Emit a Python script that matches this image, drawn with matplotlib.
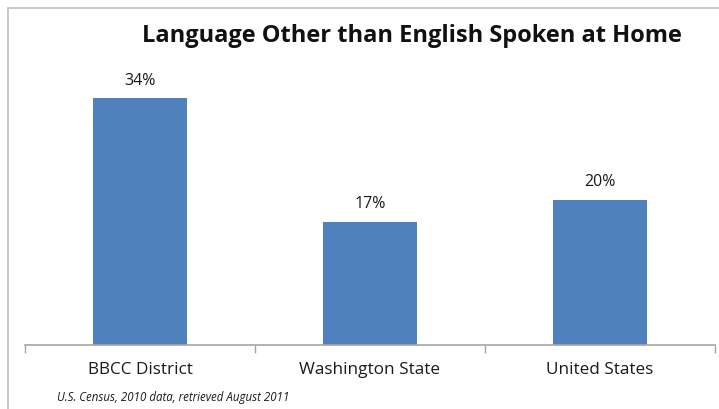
import matplotlib.pyplot as plt
from matplotlib.patches import Rectangle

# data
categories = ["BBCC District", "Washington State", "United States"]
shares = [34, 17, 20]
value_labels = ["34%", "17%", "20%"]

title = "Language Other than English Spoken at Home"
source_note = "U.S. Census, 2010 data, retrieved August 2011"

plt.rcParams["font.family"] = ["Open Sans", "DejaVu Sans"]

fig = plt.figure(figsize=(7.19, 4.09), dpi=100)
ax = fig.add_axes([0.0348, 0.1565, 0.9596, 0.7102])

x = range(len(categories))
bars = ax.bar(x, shares, width=0.405, color="#4F81BD", zorder=2)

for rect, lab in zip(bars, value_labels):
    ax.text(rect.get_x() + rect.get_width() / 2, rect.get_height() + 1.3, lab,
            ha="center", va="bottom", fontsize=11.5, color="#1A1A1A")

ax.set_xlim(-0.5, len(categories) - 0.5)
ax.set_ylim(0, 40)
ax.set_xticks(list(x))
ax.set_xticklabels(categories, fontsize=12.3, color="#1A1A1A")
ax.set_xticks([-0.5, 0.5, 1.5, 2.5], minor=True)
ax.tick_params(axis="x", which="major", length=0, pad=12)
ax.tick_params(axis="x", which="minor", length=6, color="#A6A6A6", width=1)
ax.set_yticks([])

for side in ["left", "right", "top"]:
    ax.spines[side].set_visible(False)
ax.spines["bottom"].set_color("#A6A6A6")
ax.spines["bottom"].set_linewidth(1.2)

fig.text(0.573, 0.912, title, ha="center", va="center",
         fontsize=17, fontweight="bold", color="#111111")
fig.text(0.079, 0.027, source_note, ha="left", va="center",
         fontsize=8.3, style="italic", color="#1A1A1A")

# chart area border (top and left edges)
fig.add_artist(Rectangle((8 / 719, -0.1), 1.2, 1.1 - 8 / 409,
                         transform=fig.transFigure, fill=False,
                         edgecolor="#BFBFBF", linewidth=1.2))

fig.savefig("out.png", dpi=100)
